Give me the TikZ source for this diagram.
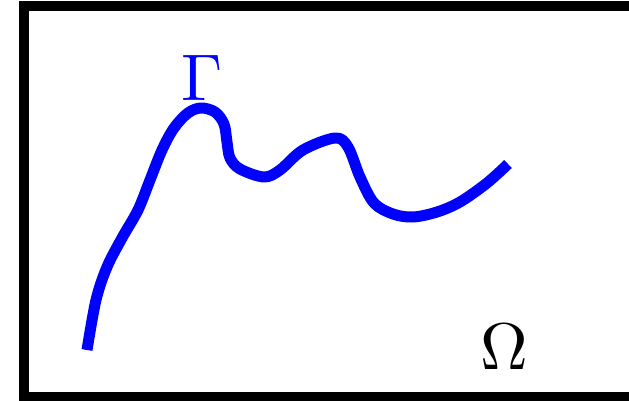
\documentclass[tikz,border=0pt]{standalone}
\usepackage{graphicx}
\begin{document}
\begin{tikzpicture}[x=1pt,y=-1pt,
  frame/.style={line width=10pt,draw=black},
  curveline/.style={line width=11pt,draw=blue,line cap=butt,line join=round},
  biglabel/.style={inner sep=0pt}]
\useasboundingbox (0,0) rectangle (629,401);
\clip (0,0) rectangle (629,401);
\draw[frame] (24,6) rectangle (660,397);
\draw[curveline] plot[smooth,tension=0.55] coordinates {
 (87,350) (96,300) (107,267) (122,238) (138,210) (150,180) (162,150) (174,128)
 (188,113) (201,108) (215,112) (224,124) (227,142) (230,158) (240,169) (264,177) (280,170)
 (303,150) (335,138) (348,147) (360,177) (374,203) (393,214) (413,217) (437,212)
 (460,202) (487,183) (508,164)};
\node[biglabel,text=blue] (Gamma) at (202,78) {\scalebox{6.6}{$\Gamma$}};
\node[biglabel,text=black] (Omega) at (504,347) {\scalebox{6.6}{$\Omega$}};
\end{tikzpicture}
\end{document}
